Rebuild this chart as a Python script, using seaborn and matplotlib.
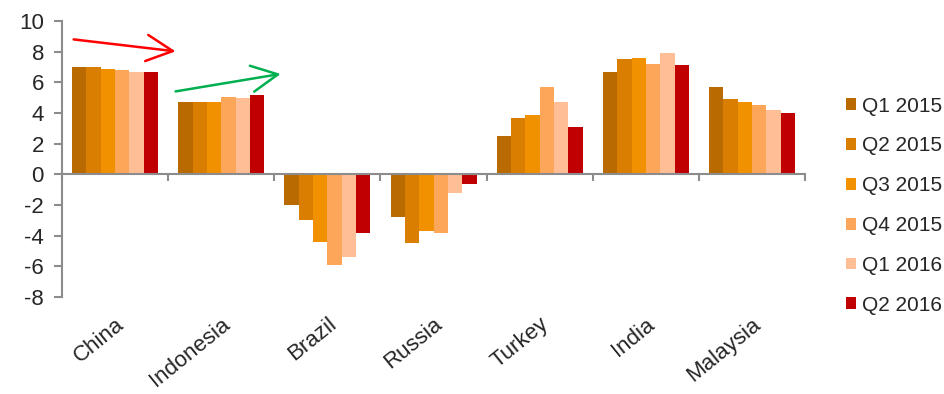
import matplotlib
matplotlib.use("Agg")
import matplotlib.pyplot as plt
import seaborn as sns
import pandas as pd

countries = ["China", "Indonesia", "Brazil", "Russia", "Turkey", "India", "Malaysia"]
quarters = ["Q1 2015", "Q2 2015", "Q3 2015", "Q4 2015", "Q1 2016", "Q2 2016"]
q1_2015 = [7.0, 4.75, -2.0, -2.8, 2.5, 6.7, 5.7]
q2_2015 = [7.0, 4.7, -3.0, -4.5, 3.7, 7.5, 4.9]
q3_2015 = [6.9, 4.75, -4.4, -3.7, 3.9, 7.6, 4.7]
q4_2015 = [6.8, 5.05, -5.9, -3.85, 5.7, 7.2, 4.5]
q1_2016 = [6.7, 4.95, -5.4, -1.2, 4.7, 7.9, 4.2]
q2_2016 = [6.7, 5.2, -3.8, -0.6, 3.1, 7.1, 4.0]
colors = ["#B96A00", "#D97E00", "#F29100", "#FCA65A", "#FFBE96", "#C00000"]

# trend arrows: (x_start, y_start, x_end, y_end, colour)
arrows = [
    (-0.39, 8.8, 0.57, 8.02, "#FF0000"),
    (0.57, 5.41, 1.56, 6.55, "#00B050"),
    (5.56, 6.91, 6.54, 4.89, "#FF0000"),
]

series = [q1_2015, q2_2015, q3_2015, q4_2015, q1_2016, q2_2016]
rows = []
for q, vals in zip(quarters, series):
    for c, v in zip(countries, vals):
        rows.append({"country": c, "quarter": q, "value": v})
df = pd.DataFrame(rows)

sns.set_style("white")
plt.rcParams["font.family"] = ["Liberation Sans", "DejaVu Sans"]
plt.rcParams["axes.unicode_minus"] = False

fig = plt.figure(figsize=(9.45, 3.94), dpi=100)
ax = fig.add_axes([0.0656, 0.246, 0.7864, 0.7007])

sns.barplot(data=df, x="country", y="value", hue="quarter", order=countries,
            hue_order=quarters, palette=colors, width=0.81, saturation=1,
            linewidth=0, ax=ax, legend=True)

ax.set_xlim(-0.5, 6.5)
ax.set_ylim(-8, 10)
ax.set_yticks(range(-8, 11, 2))
ax.set_xlabel("")
ax.set_ylabel("")

for s in ["top", "right"]:
    ax.spines[s].set_visible(False)
ax.spines["left"].set_color("#8C8C8C")
ax.spines["left"].set_linewidth(1.5)
ax.spines["bottom"].set_position(("data", 0))
ax.spines["bottom"].set_color("#8C8C8C")
ax.spines["bottom"].set_linewidth(1.5)

ax.tick_params(axis="y", direction="out", length=6, width=1.5, color="#8C8C8C",
               labelsize=16, pad=7, left=True)
ax.set_xticks([i + 0.5 for i in range(-1, 7)], minor=True)
ax.tick_params(axis="x", which="minor", direction="out", length=5, width=1.5,
               color="#8C8C8C", bottom=True)
ax.tick_params(axis="x", which="major", length=0, labelbottom=False)

sec = ax.secondary_xaxis("bottom")
sec.set_xticks(range(len(countries)))
sec.set_xticklabels(countries, rotation=39, ha="right", rotation_mode="anchor",
                    fontsize=16)
sec.tick_params(length=0, pad=12)
sec.spines["bottom"].set_visible(False)

for x0, y0, x1, y1, col in arrows:
    ax.annotate("", xy=(x1, y1), xytext=(x0, y0),
                arrowprops=dict(arrowstyle="->,head_length=0.9,head_width=0.45",
                                color=col, lw=1.8, mutation_scale=21,
                                shrinkA=0, shrinkB=0))

handles, labels = ax.get_legend_handles_labels()
ax.legend(handles, labels, loc="center left", bbox_to_anchor=(0.895, 0.478),
          bbox_transform=fig.transFigure, frameon=False, fontsize=15,
          handlelength=0.5, handleheight=0.5, handletextpad=0.3,
          labelspacing=1.0, borderpad=0, borderaxespad=0)

fig.savefig("out.png", dpi=100)
